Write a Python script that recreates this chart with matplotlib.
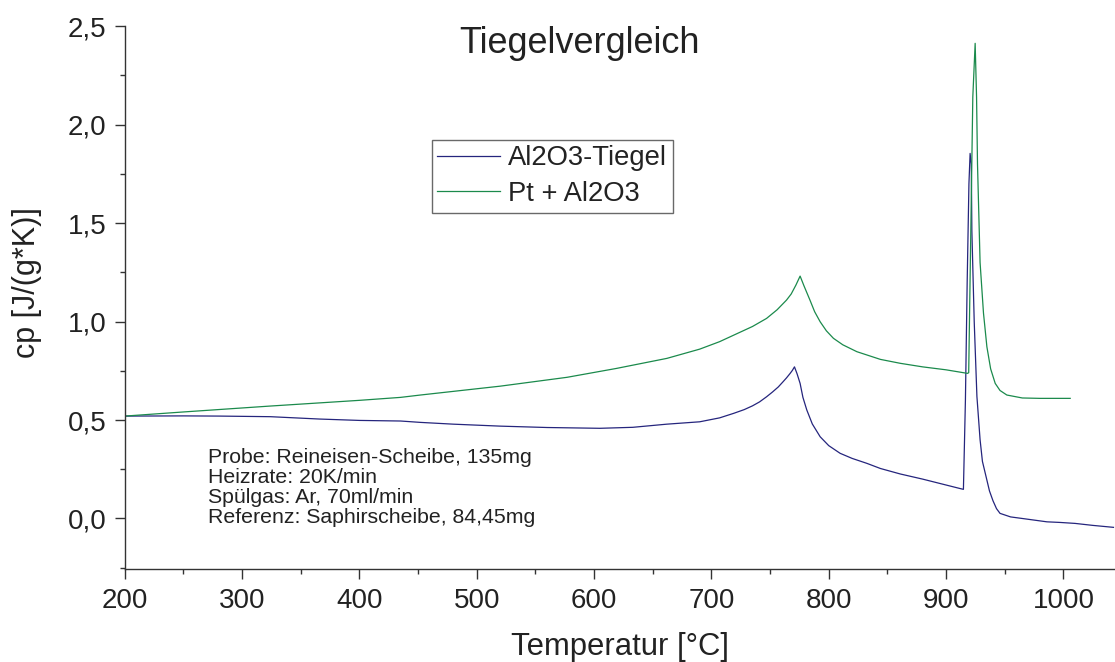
import matplotlib
matplotlib.use("Agg")
import matplotlib.pyplot as plt
from matplotlib.ticker import MultipleLocator, FuncFormatter

plt.rcParams['font.family'] = ['Liberation Sans', 'DejaVu Sans']

# Al2O3-Tiegel (blue)
t_al = [200, 250, 281, 324, 366, 400, 435, 452, 480, 520, 560, 605, 633, 662, 690,
        707, 719, 728, 735, 741, 747, 752, 757, 761, 764, 767, 769, 770.8, 773,
        775.6, 778, 781.3, 786, 792.7, 800, 809.7, 820, 832.5, 844, 861, 880, 900,
        912, 914.8, 916.5, 918, 919.5, 920.5, 921.5, 922, 924, 926.3, 929, 931,
        934.8, 937, 940, 943, 946, 955, 965, 986, 997, 1010, 1025, 1042.7]
cp_al = [0.520, 0.521, 0.520, 0.517, 0.505, 0.498, 0.495, 0.488, 0.479, 0.469, 0.462,
         0.458, 0.463, 0.479, 0.491, 0.511, 0.534, 0.553, 0.572, 0.592, 0.618, 0.642,
         0.668, 0.694, 0.714, 0.736, 0.752, 0.770, 0.735, 0.686, 0.615, 0.551, 0.48,
         0.415, 0.37, 0.331, 0.305, 0.280, 0.254, 0.226, 0.20, 0.17, 0.152, 0.148,
         0.6, 1.2, 1.7, 1.854, 1.80, 1.46, 1.0, 0.62, 0.40, 0.29, 0.195, 0.14, 0.09,
         0.05, 0.026, 0.008, 0.0, -0.017, -0.02, -0.025, -0.035, -0.045]

# Pt + Al2O3 (green)
t_pt = [200, 250, 324, 400, 435, 452, 520, 577, 619, 662, 690, 707, 719, 735, 747,
        756, 764, 768, 772, 775.6, 779, 784, 788, 792.7, 798, 804, 812, 824, 844,
        861, 880, 900, 918.2, 919.3, 921.1, 922.8, 924.8, 926, 926.8, 929, 931.9,
        934.8, 938, 941.9, 946, 951.8, 965, 980, 1005.8]
cp_pt = [0.520, 0.541, 0.571, 0.600, 0.615, 0.627, 0.672, 0.717, 0.762, 0.813, 0.860,
         0.898, 0.931, 0.975, 1.016, 1.06, 1.109, 1.14, 1.185, 1.231, 1.18, 1.109,
         1.05, 0.999, 0.953, 0.915, 0.882, 0.847, 0.808, 0.788, 0.77, 0.755, 0.737,
         0.74, 1.46, 2.14, 2.413, 2.14, 1.80, 1.30, 1.043, 0.872, 0.76, 0.686, 0.65,
         0.627, 0.612, 0.61, 0.61]

labels = ["Al2O3-Tiegel", "Pt + Al2O3"]
info = ("Probe: Reineisen-Scheibe, 135mg\nHeizrate: 20K/min\n"
        "Spülgas: Ar, 70ml/min\nReferenz: Saphirscheibe, 84,45mg")

W, H = 1115, 662
fig = plt.figure(figsize=(W / 100, H / 100), dpi=100)
ax = fig.add_axes([124.8 / W, 1 - 568.7 / H, 1 - 124.8 / W, (568.7 - 26.2) / H])

ax.plot(t_al, cp_al, color="#25257d", lw=0.9, label=labels[0])
ax.plot(t_pt, cp_pt, color="#1b8a4c", lw=0.9, label=labels[1])

ax.set_xlim(200, 1044)
ax.set_ylim(-0.255, 2.5)

for s in ["top", "right"]:
    ax.spines[s].set_visible(False)
for s in ["left", "bottom"]:
    ax.spines[s].set_color("#333333")
    ax.spines[s].set_linewidth(1.0)

ax.xaxis.set_major_locator(MultipleLocator(100))
ax.xaxis.set_minor_locator(MultipleLocator(50))
ax.yaxis.set_major_locator(MultipleLocator(0.5))
ax.yaxis.set_minor_locator(MultipleLocator(0.25))
ax.yaxis.set_major_formatter(FuncFormatter(lambda v, p: f"{v:.1f}".replace(".", ",")))
ax.tick_params(which="major", direction="out", length=7, width=1, color="#333333",
               labelsize=20, labelcolor="#222222")
ax.tick_params(axis="x", which="major", pad=7)
ax.tick_params(axis="y", which="major", pad=6)
ax.tick_params(which="minor", direction="out", length=3.5, width=1, color="#333333")

ax.set_xlabel("Temperatur [°C]", fontsize=22.3, color="#222222", labelpad=13)
ax.set_ylabel("cp [J/(g*K)]", fontsize=22, color="#222222")
ax.yaxis.set_label_coords(-0.0836, 0.527)

ax.text(587.6, 2.364, "Tiegelvergleich", fontsize=26, color="#222222",
        ha="center", va="baseline")
ax.text(271.2, 0.158, info, fontsize=15.3, color="#222222", ha="left", va="center",
        linespacing=1.08)

leg = ax.legend(loc="upper left", bbox_to_anchor=(431.7 / W, 1 - 140 / H),
                bbox_transform=fig.transFigure, fontsize=19.7, frameon=True,
                fancybox=False, borderaxespad=0, borderpad=0.2, handlelength=2.3,
                handletextpad=0.3, labelspacing=0.35, labelcolor="#222222")
leg.get_frame().set_edgecolor("#444444")
leg.get_frame().set_linewidth(1.0)

fig.savefig("out.png", dpi=100)
